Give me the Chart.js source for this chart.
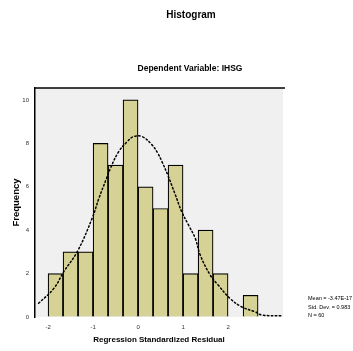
<!DOCTYPE html>
<html><head><meta charset="utf-8">
<script src="https://cdn.jsdelivr.net/npm/chart.js@4/dist/chart.umd.min.js"></script>
<style>
html,body{margin:0;padding:0;background:#fff;}
#wrap{position:relative;width:353px;height:351px;overflow:hidden;}
canvas{position:absolute;left:0;top:0;}
.t{position:absolute;font-family:'Liberation Sans',Arial,sans-serif;color:#000;white-space:nowrap;}
.c{transform:translateX(-50%);}
</style></head><body>
<div id="wrap">
<canvas id="c" width="353" height="351"></canvas>
<div class="t c" style="left:191px;top:9px;font-size:10px;font-weight:bold;">Histogram</div>
<div class="t c" style="left:190px;top:63px;font-size:8.5px;font-weight:bold;">Dependent Variable: IHSG</div>
<div class="t" style="left:308px;top:294px;font-size:5.5px;line-height:8.5px;">Mean = -3.47E-17<br>Std. Dev. = 0.983<br>N = 60</div>
</div>
<script>
// histogram bins (bin centres, standardized residual) and counts
const binCenters = [-1.833,-1.5,-1.167,-0.833,-0.5,-0.167,0.167,0.5,0.833,1.167,1.5,1.833,2.167,2.5];
const frequencies = [2,3,3,8,7,10,6,5,7,2,4,2,0,1];
// normal curve
const curveX = [-2.21,-1.87,-1.65,-1.35,-1.02,-0.87,-0.70,-0.61,-0.43,-0.24,-0.10,0.09,0.31,0.44,0.53,0.66,0.83,0.97,1.12,1.27,1.38,1.60,1.78,2.04,2.30,2.60,2.75,3.19];
const curveY = [0.63,1.32,2.09,3.01,4.55,5.47,6.39,6.87,7.62,8.08,8.31,8.31,7.93,7.54,7.16,6.54,5.62,4.85,4.24,3.63,2.86,1.94,1.47,0.86,0.47,0.24,0.09,0.06];
const yTicks = [0,2,4,6,8,10];
const xTicks = [-2,-1,0,1,2];
const xTitle = 'Regression Standardized Residual';
const yTitle = 'Frequency';

const FONT = "'Liberation Sans', Arial, sans-serif";

const frame = {
  id: 'frame',
  beforeDraw(chart) {
    const {ctx, chartArea: a} = chart;
    ctx.save();
    ctx.fillStyle = '#f0f0f0';
    ctx.fillRect(a.left, a.top, a.right - a.left, a.bottom - a.top);
    ctx.strokeStyle = '#000';
    ctx.lineWidth = 1.5;
    ctx.beginPath();
    ctx.moveTo(a.left, a.top);
    ctx.lineTo(a.right + 2, a.top);
    ctx.stroke();
    ctx.restore();
  }
};

new Chart(document.getElementById('c'), {
  type: 'bar',
  data: {
    datasets: [
      {
        type: 'line',
        order: 0,
        data: curveX.map((x, i) => ({x: x, y: curveY[i]})),
        borderColor: '#000',
        borderWidth: 1.5,
        borderDash: [1.5, 2.5],
        borderCapStyle: 'round',
        pointRadius: 0,
        tension: 0.4,
        fill: false
      },
      {
        type: 'bar',
        order: 1,
        data: binCenters.map((x, i) => ({x: x, y: frequencies[i]})),
        backgroundColor: 'rgb(214,210,150)',
        borderColor: '#000',
        borderWidth: 1.2,
        barPercentage: 1,
        categoryPercentage: 1
      }
    ]
  },
  options: {
    responsive: false,
    animation: false,
    layout: {padding: {top: 88, right: 70, left: 0, bottom: 0}},
    plugins: {legend: {display: false}, tooltip: {enabled: false}},
    scales: {
      x: {
        type: 'linear',
        min: -2.29,
        max: 3.22,
        offset: false,
        afterFit(s) { s.height = 34; },
        afterBuildTicks(s) { s.ticks = xTicks.map(v => ({value: v})); },
        grid: {color: 'transparent', drawTicks: false},
        border: {display: false},
        ticks: {padding: 7, color: '#333', font: {family: FONT, size: 6}},
        title: {display: true, text: xTitle, color: '#000', padding: {top: 0, bottom: 6}, font: {family: FONT, size: 8, weight: 'bold'}}
      },
      y: {
        min: 0,
        max: 10.55,
        afterFit(s) { s.width = 35; },
        afterBuildTicks(s) { s.ticks = yTicks.map(v => ({value: v})); },
        grid: {color: 'transparent', drawTicks: false},
        border: {display: true, color: '#000', width: 1.5},
        ticks: {padding: 6, color: '#333', font: {family: FONT, size: 6}},
        title: {display: true, text: yTitle, color: '#000', padding: {top: 11, bottom: 0}, font: {family: FONT, size: 9.5, weight: 'bold'}}
      }
    }
  },
  plugins: [frame]
});
</script>
</body></html>
